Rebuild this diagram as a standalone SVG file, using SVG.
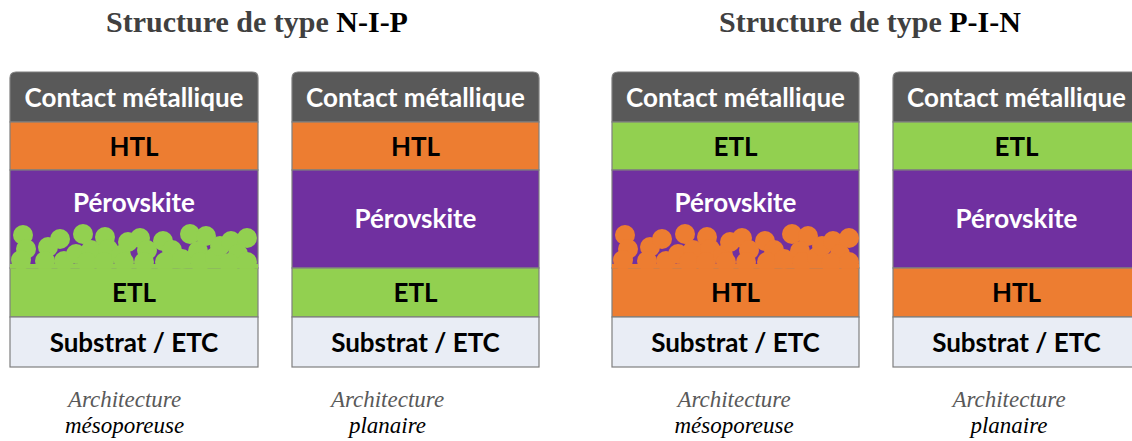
<svg xmlns="http://www.w3.org/2000/svg" xmlns:xlink="http://www.w3.org/1999/xlink" width="1132" height="441" viewBox="0 0 1132 441">
<style>
.ly{stroke:#7f7f7f;stroke-width:1.2}
.contact{fill:#595959}
.htl{fill:#ED7D31}
.etl{fill:#92D050}
.per{fill:#7030A0}
.sub{fill:#E9EDF5}
.lb{font-family:Lato,"Open Sans",sans-serif;font-weight:bold;font-size:26px;text-anchor:middle}
.w{fill:#ffffff}
.k{fill:#000000}
.title{font-family:"Liberation Serif",serif;font-weight:bold;font-size:30px;text-anchor:middle;fill:#404040}
.cap{font-family:"Liberation Serif",serif;font-style:italic;font-size:23px;text-anchor:middle}
</style>
<defs>
<g id="pores">
<circle cx="23" cy="235" r="10"/><circle cx="26" cy="249" r="10"/><circle cx="21" cy="260" r="10"/><circle cx="48" cy="247" r="10"/><circle cx="60" cy="239" r="10"/><circle cx="45" cy="261" r="10"/><circle cx="64" cy="261" r="10"/><circle cx="83" cy="234" r="10"/><circle cx="76" cy="254" r="10"/><circle cx="91" cy="250" r="10"/><circle cx="87" cy="262" r="10"/><circle cx="105" cy="237" r="10"/><circle cx="108" cy="249" r="10"/><circle cx="104" cy="262" r="10"/><circle cx="121" cy="255" r="10"/><circle cx="128" cy="242" r="10"/><circle cx="124" cy="262" r="10"/>
<circle cx="140" cy="238" r="10"/><circle cx="147" cy="250" r="10"/><circle cx="144" cy="262" r="10"/><circle cx="163" cy="241" r="10"/><circle cx="172" cy="250" r="10"/><circle cx="165" cy="262" r="10"/><circle cx="182" cy="259" r="10"/><circle cx="190" cy="234" r="10"/><circle cx="206" cy="236" r="10"/><circle cx="198" cy="251" r="10"/><circle cx="200" cy="262" r="10"/><circle cx="215" cy="257" r="10"/><circle cx="220" cy="246" r="10"/><circle cx="231" cy="241" r="10"/><circle cx="238" cy="254" r="10"/><circle cx="229" cy="263" r="10"/><circle cx="247" cy="238" r="10"/><circle cx="247" cy="262" r="10"/>
<rect x="10" y="264" width="248" height="4.6"/>
</g>
<clipPath id="c1"><rect x="10" y="170" width="248" height="99"/></clipPath>
<clipPath id="c3"><rect x="612" y="170" width="247" height="99"/></clipPath>
</defs>
<rect width="1132" height="441" fill="#ffffff"/>

<g id="title-nip"><text class="title" x="257" y="32">Structure de type <tspan fill="#000000">N-I-P</tspan></text></g>
<g id="title-pin"><text class="title" x="870" y="32">Structure de type <tspan fill="#000000">P-I-N</tspan></text></g>

<g id="stack-nip-meso">
<path class="ly contact" d="M10,122 V78 Q10,72 16,72 H252 Q258,72 258,78 V122 Z"/>
<rect class="ly htl" x="10" y="122" width="248" height="48"/>
<rect class="ly per" x="10" y="170" width="248" height="98"/>
<rect class="ly etl" x="10" y="268" width="248" height="49"/>
<rect class="ly sub" x="10" y="317" width="248" height="50"/>
<g clip-path="url(#c1)"><use xlink:href="#pores" href="#pores" fill="#92D050"/></g>
<text class="lb w" x="134" y="107">Contact métallique</text>
<text class="lb k" x="134" y="156">HTL</text>
<text class="lb w" x="134" y="212">Pérovskite</text>
<text class="lb k" x="134" y="302">ETL</text>
<text class="lb k" x="134" y="352">Substrat / ETC</text>
</g>

<g id="stack-nip-plan">
<path class="ly contact" d="M292,122 V78 Q292,72 298,72 H533 Q539,72 539,78 V122 Z"/>
<rect class="ly htl" x="292" y="122" width="247" height="48"/>
<rect class="ly per" x="292" y="170" width="247" height="98"/>
<rect class="ly etl" x="292" y="268" width="247" height="49"/>
<rect class="ly sub" x="292" y="317" width="247" height="50"/>
<text class="lb w" x="415.5" y="107">Contact métallique</text>
<text class="lb k" x="415.5" y="156">HTL</text>
<text class="lb w" x="415.5" y="228">Pérovskite</text>
<text class="lb k" x="415.5" y="302">ETL</text>
<text class="lb k" x="415.5" y="352">Substrat / ETC</text>
</g>

<g id="stack-pin-meso">
<path class="ly contact" d="M612,122 V78 Q612,72 618,72 H853 Q859,72 859,78 V122 Z"/>
<rect class="ly etl" x="612" y="122" width="247" height="48"/>
<rect class="ly per" x="612" y="170" width="247" height="98"/>
<rect class="ly htl" x="612" y="268" width="247" height="49"/>
<rect class="ly sub" x="612" y="317" width="247" height="50"/>
<g clip-path="url(#c3)"><use xlink:href="#pores" href="#pores" fill="#ED7D31" transform="translate(602,0)"/></g>
<text class="lb w" x="735.5" y="107">Contact métallique</text>
<text class="lb k" x="735.5" y="156">ETL</text>
<text class="lb w" x="735.5" y="212">Pérovskite</text>
<text class="lb k" x="735.5" y="302">HTL</text>
<text class="lb k" x="735.5" y="352">Substrat / ETC</text>
</g>

<g id="stack-pin-plan">
<path class="ly contact" d="M893,122 V78 Q893,72 899,72 H1134 Q1140,72 1140,78 V122 Z"/>
<rect class="ly etl" x="893" y="122" width="247" height="48"/>
<rect class="ly per" x="893" y="170" width="247" height="98"/>
<rect class="ly htl" x="893" y="268" width="247" height="49"/>
<rect class="ly sub" x="893" y="317" width="247" height="50"/>
<text class="lb w" x="1016.5" y="107">Contact métallique</text>
<text class="lb k" x="1016.5" y="156">ETL</text>
<text class="lb w" x="1016.5" y="228">Pérovskite</text>
<text class="lb k" x="1016.5" y="302">HTL</text>
<text class="lb k" x="1016.5" y="352">Substrat / ETC</text>
</g>

<g id="captions">
<text class="cap" x="124.5" y="407"><tspan fill="#595959">Architecture</tspan><tspan x="124.5" dy="26" fill="#000000">mésoporeuse</tspan></text>
<text class="cap" x="387.5" y="407"><tspan fill="#595959">Architecture</tspan><tspan x="387.5" dy="26" fill="#000000">planaire</tspan></text>
<text class="cap" x="734" y="407"><tspan fill="#595959">Architecture</tspan><tspan x="734" dy="26" fill="#000000">mésoporeuse</tspan></text>
<text class="cap" x="1009" y="407"><tspan fill="#595959">Architecture</tspan><tspan x="1009" dy="26" fill="#000000">planaire</tspan></text>
</g>
</svg>
